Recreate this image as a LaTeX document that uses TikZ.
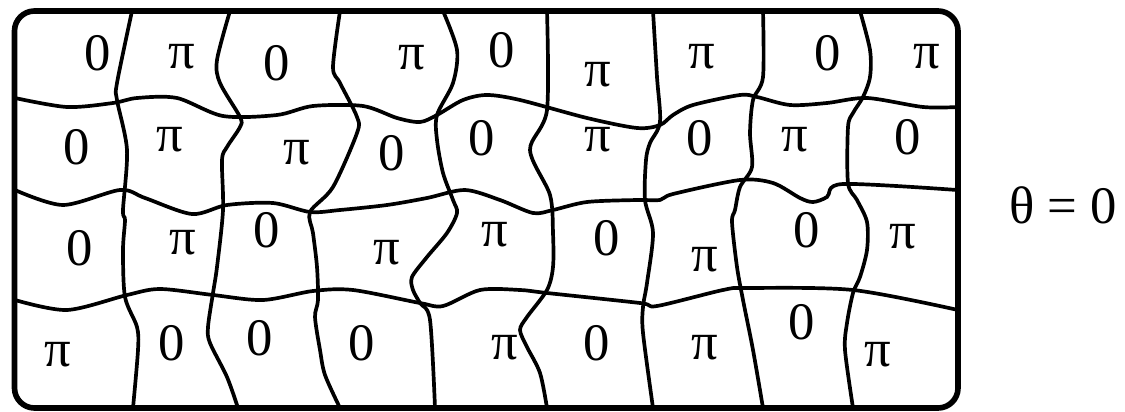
\documentclass[tikz,border=0pt]{standalone}
\usepackage{fontspec}
\setmainfont{Liberation Serif}
\newfontfamily\phasefont{Liberation Serif}
\usepackage{tikz}

\begin{document}
\begin{tikzpicture}[x=0.02cm, y=-0.02cm,
    wall/.style={line width=2.1pt, line join=round, line cap=round},
    phase/.style={font=\phasefont\fontsize{30}{36}\selectfont, inner sep=0pt}]
    \useasboundingbox (0,0) rectangle (1125,412);
    % domain walls, left to right across
    \draw[wall] plot[smooth, tension=0.5] coordinates {(15,98) (67,107) (113,103) (137,98) (177,98) (223,116) (277,115) (313,106) (363,106) (397,118) (420,122) (437,115) (463,100) (487,95) (520,100) (587,118) (637,128) (660,125) (673,115) (693,105) (740,95) (757,97) (790,105) (827,103) (867,98) (923,107) (958,107)};
    \draw[wall] plot[smooth, tension=0.5] coordinates {(15,190) (63,205) (120,190) (145,198) (192,214) (227,205) (273,203) (310,212) (340,210) (387,205) (427,198) (465,190) (500,200) (533,213) (553,210) (587,202) (637,200) (660,200) (673,194) (740,180) (773,183) (800,198) (813,202) (827,197) (843,184) (957,190)};
    \draw[wall] plot[smooth, tension=0.5] coordinates {(15,300) (67,310) (127,295) (160,289) (213,295) (263,300) (313,291) (353,290) (420,303) (443,306) (480,290) (520,290) (547,293) (640,303) (657,306) (723,290) (747,288) (853,290) (958,310)};
    % domain walls, top to bottom
    \draw[wall] plot[smooth, tension=0.5] coordinates {(132,11) (117,83) (117,100) (127,150) (123,210) (125,220) (123,250) (125,297) (137,327) (138,350) (133,408)};
    \draw[wall] plot[smooth, tension=0.5] coordinates {(230,11) (217,60) (220,83) (240,117) (240,127) (227,147) (222,160) (223,210) (217,267) (213,293) (208,327) (210,343) (227,377) (238,408)};
    \draw[wall] plot[smooth, tension=0.5] coordinates {(340,11) (333,67) (340,83) (357,117) (357,133) (333,187) (310,212) (313,233) (317,267) (318,300) (315,317) (320,350) (325,375) (340,408)};
    \draw[wall] plot[smooth, tension=0.5] coordinates {(443,11) (457,50) (453,83) (437,115) (437,140) (443,173) (453,200) (457,213) (447,233) (427,257) (412,277) (413,290) (420,303) (430,320) (435,408)};
    \draw[wall] plot[smooth, tension=0.5] coordinates {(547,11) (547,110) (530,150) (550,195) (553,233) (553,267) (547,290) (527,317) (520,330) (527,347) (540,373) (547,408)};
    \draw[wall] plot[smooth, tension=0.5] coordinates {(653,11) (657,77) (660,122) (650,143) (646,160) (645,200) (653,233) (647,283) (643,307) (643,333) (653,408)};
    \draw[wall] plot[smooth, tension=0.5] coordinates {(763,11) (763,77) (753,100) (750,133) (752,167) (740,187) (735,210) (732,222) (737,267) (743,300) (753,350) (763,408)};
    \draw[wall] plot[smooth, tension=0.5] coordinates {(860,11) (870,50) (870,77) (863,97) (853,113) (848,127) (848,183) (857,200) (867,222) (867,250) (860,277) (853,293) (847,323) (845,350) (853,408)};
    % sample edge
    \draw[line width=3.2pt, rounded corners=0.4cm] (14.5,11) rectangle (958,408);
    % phases, row 1
    \node[phase] (a1) at (98,53) {0};
    \node[phase] (a2) at (182,57) {π};
    \node[phase] (a3) at (277,63) {0};
    \node[phase] (a4) at (412,58) {π};
    \node[phase] (a5) at (502,50) {0};
    \node[phase] (a6) at (598,75) {π};
    \node[phase] (a7) at (702,57) {π};
    \node[phase] (a8) at (828,53) {0};
    \node[phase] (a9) at (927,57) {π};
    % row 2
    \node[phase] (b1) at (77,147) {0};
    \node[phase] (b2) at (170,140) {π};
    \node[phase] (b3) at (297,153) {π};
    \node[phase] (b4) at (392,153) {0};
    \node[phase] (b5) at (482,138) {0};
    \node[phase] (b6) at (598,140) {π};
    \node[phase] (b7) at (700,138) {0};
    \node[phase] (b8) at (795,140) {π};
    \node[phase] (b9) at (908,137) {0};
    % row 3
    \node[phase] (c1) at (80,248) {0};
    \node[phase] (c2) at (183,243) {π};
    \node[phase] (c3) at (267,230) {0};
    \node[phase] (c4) at (387,253) {π};
    \node[phase] (c5) at (495,235) {π};
    \node[phase] (c6) at (607,238) {0};
    \node[phase] (c7) at (705,260) {π};
    \node[phase] (c8) at (807,230) {0};
    \node[phase] (c9) at (903,237) {π};
    % row 4
    \node[phase] (d1) at (58,355) {π};
    \node[phase] (d2) at (172,343) {0};
    \node[phase] (d3) at (260,338) {0};
    \node[phase] (d4) at (362,343) {0};
    \node[phase] (d5) at (505,348) {π};
    \node[phase] (d6) at (597,343) {0};
    \node[phase] (d7) at (705,348) {π};
    \node[phase] (d8) at (802,322) {0};
    \node[phase] (d9) at (878,355) {π};
    \node[phase] (theta) at (1063,205) {θ = 0};
\end{tikzpicture}
\end{document}
